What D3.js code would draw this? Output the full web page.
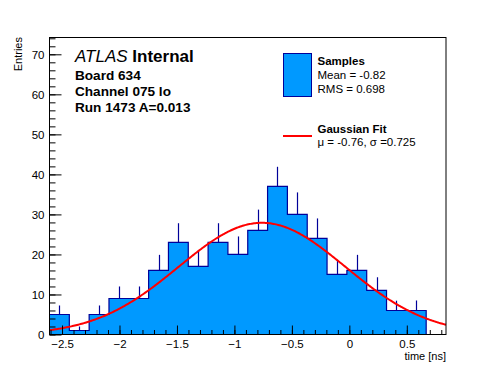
<!DOCTYPE html>
<html>
<head>
<meta charset="utf-8">
<script src="https://cdn.jsdelivr.net/npm/d3@7"></script>
<style>
  body { margin: 0; background: #fff; }
  svg { font-family: "Liberation Sans", Arial, Helvetica, sans-serif; }
</style>
</head>
<body>
<svg id="chart" width="496" height="372"></svg>
<script>
// histogram: 20 bins from binLow, last one empty
const binLow = -2.609;
const binWidth = 0.1725;
const counts = [5, 1, 5, 9, 9, 16, 23, 17, 23, 20, 26, 37, 30, 24, 15, 16, 11, 6, 6, 0];
const errors = [2.25, 1, 2.25, 3, 3, 3.9, 4.8, 4.1, 4.8, 4.5, 5.2, 4.9, 5.5, 5, 3.6, 3.9, 3.3, 2.45, 2.5, 0];

const xTicks = [-2.5, -2, -1.5, -1, -0.5, 0, 0.5];
const yTicks = [0, 10, 20, 30, 40, 50, 60, 70];

// gaussian fit parameters shown in the legend
const fitMean = -0.76;
const fitSigma = 0.725;
const fitAmp = 27.9;

const infoLines = ["Board 634", "Channel 075 lo", "Run 1473 A=0.013"];

let svg = d3.select("#chart");

let xMin = binLow;
let xMax = binLow + binWidth * counts.length;

let x = d3.scaleLinear().domain([xMin, xMax]).range([49.5, 446]);
let y = d3.scaleLinear().domain([0, 74.2]).range([334.5, 37.5]);

let fillCol = "#0099ff";
let lineCol = "#000099";

// filled step histogram
let steps = [[xMin, 0]];
counts.forEach((c, i) => {
  steps.push([binLow + i * binWidth, c]);
  steps.push([binLow + (i + 1) * binWidth, c]);
});
steps.push([xMax, 0]);

let line = d3.line()
  .x((d) => x(d[0]))
  .y((d) => y(d[1]));

svg.append("path")
  .attr("d", line(steps) + "Z")
  .attr("fill", fillCol)
  .attr("stroke", "none");

svg.append("path")
  .attr("d", line(steps.slice(1, steps.length - 1)))
  .attr("fill", "none")
  .attr("stroke", lineCol)
  .attr("stroke-width", 1.2);

// error bars (upper half only visible)
svg.append("g")
  .selectAll("line")
  .data(counts.map((c, i) => ({ c: c, e: errors[i], i: i })).filter((d) => d.c > 0))
  .enter()
  .append("line")
  .attr("x1", (d) => Math.round(x(binLow + (d.i + 0.5) * binWidth)) + 0.5)
  .attr("x2", (d) => Math.round(x(binLow + (d.i + 0.5) * binWidth)) + 0.5)
  .attr("y1", (d) => y(d.c))
  .attr("y2", (d) => y(d.c + d.e))
  .attr("stroke", lineCol)
  .attr("stroke-width", 1.2);

// gaussian fit curve
let curvePts = d3.range(xMin, xMax + 0.001, 0.01).map((t) => {
  return [t, fitAmp * Math.exp(-0.5 * Math.pow((t - fitMean) / fitSigma, 2))];
});

svg.append("path")
  .attr("d", line(curvePts))
  .attr("fill", "none")
  .attr("stroke", "#ff0000")
  .attr("stroke-width", 2);

// axes, ticks pointing into the frame
let fmt = (d) => d3.format("")(d).replace("-", "\u2212");

let xAxis = svg.append("g")
  .attr("transform", "translate(0,334.5)")
  .call(d3.axisBottom(x).tickValues(xTicks).tickSizeInner(-9).tickSizeOuter(0).tickFormat(fmt));

let xMinor = svg.append("g")
  .attr("transform", "translate(0,334.5)")
  .call(d3.axisBottom(x).tickValues(d3.range(-26, 9).map((v) => v / 10)).tickSizeInner(-4.5).tickSizeOuter(0).tickFormat(""));

let yAxis = svg.append("g")
  .attr("transform", "translate(49.5,0)")
  .call(d3.axisLeft(y).tickValues(yTicks).tickSizeInner(-12).tickSizeOuter(0));

let yMinor = svg.append("g")
  .attr("transform", "translate(49.5,0)")
  .call(d3.axisLeft(y).tickValues(d3.range(0, 75, 2)).tickSizeInner(-6).tickSizeOuter(0).tickFormat(""));

[xAxis, xMinor, yAxis, yMinor].forEach((g) => {
  g.select(".domain").remove();
  g.selectAll("line").attr("stroke", "#000").attr("stroke-width", 1);
  g.selectAll("text").attr("font-size", 11.5).attr("font-family", "Liberation Sans, Arial, sans-serif").attr("fill", "#000");
});

yAxis.selectAll("text").attr("x", -5).attr("dy", "0.35em");
xAxis.selectAll("text").attr("y", 5.5).attr("dy", "0.71em");

// frame
svg.append("rect")
  .attr("x", 49.5)
  .attr("y", 37.5)
  .attr("width", 446 - 49.5)
  .attr("height", 334.5 - 37.5)
  .attr("fill", "none")
  .attr("stroke", "#000")
  .attr("stroke-width", 1);

// axis titles
svg.append("text")
  .attr("transform", "translate(22,37) rotate(-90)")
  .attr("text-anchor", "end")
  .attr("font-size", 11)
  .text("Entries");

svg.append("text")
  .attr("x", 446)
  .attr("y", 360)
  .attr("text-anchor", "end")
  .attr("font-size", 11)
  .text("time [ns]");

// ATLAS label
let atlas = svg.append("text")
  .attr("x", 75)
  .attr("y", 62)
  .attr("font-size", 17);
atlas.append("tspan").attr("font-style", "italic").text("ATLAS");
atlas.append("tspan").attr("font-weight", "bold").text(" Internal");

svg.selectAll(".info")
  .data(infoLines)
  .enter()
  .append("text")
  .attr("class", "info")
  .attr("x", 75)
  .attr("y", (d, i) => 79.5 + i * 16.3)
  .attr("font-size", 13.6)
  .attr("font-weight", "bold")
  .text((d) => d);

// legend
svg.append("rect")
  .attr("x", 283.5)
  .attr("y", 53.5)
  .attr("width", 28)
  .attr("height", 43)
  .attr("fill", fillCol)
  .attr("stroke", lineCol)
  .attr("stroke-width", 1);

svg.append("line")
  .attr("x1", 283)
  .attr("x2", 312)
  .attr("y1", 136)
  .attr("y2", 136)
  .attr("stroke", "#ff0000")
  .attr("stroke-width", 2);

let legendText = [
  { t: "Samples", y: 65, b: true },
  { t: "Mean = -0.82", y: 79, b: false },
  { t: "RMS = 0.698", y: 93.3, b: false },
  { t: "Gaussian Fit", y: 132.7, b: true },
  { t: "\u03bc = -0.76, \u03c3 =0.725", y: 145.5, b: false }
];

svg.selectAll(".leg")
  .data(legendText)
  .enter()
  .append("text")
  .attr("class", "leg")
  .attr("x", 317.5)
  .attr("y", (d) => d.y)
  .attr("font-size", 11.5)
  .attr("font-weight", (d) => d.b ? "bold" : "normal")
  .text((d) => d.t);
</script>
</body>
</html>
